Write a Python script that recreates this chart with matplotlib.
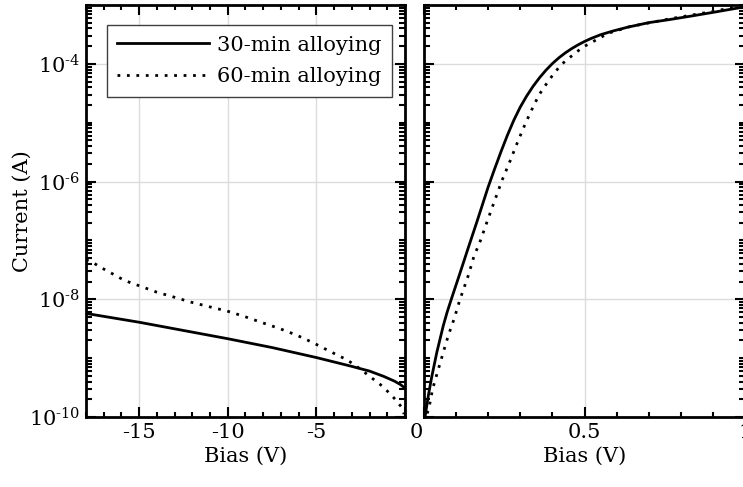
import numpy as np
import matplotlib
matplotlib.use("Agg")
import matplotlib.pyplot as plt
from matplotlib.ticker import FixedLocator, LogLocator, FuncFormatter, MultipleLocator, NullFormatter

# reverse-bias branch (left panel), current as log10(A)
rev_bias_30 = [-18, -15, -12.5, -10, -7.5, -5, -4, -3, -2, -1.2, -0.6, -0.25, 0]
rev_log_i_30 = [-8.24, -8.39, -8.53, -8.67, -8.82, -8.99, -9.065, -9.14, -9.22, -9.31,
                -9.39, -9.45, -9.51]
rev_bias_60 = [-18, -17.64, -17.27, -16.8, -16.36, -15.95, -15.48, -15.0, -14.0, -13.07,
               -12.06, -11.0, -10.04, -9.08, -8.03, -7.05, -6.11, -5.17, -4.27, -3.33,
               -2.86, -2.07, -1.69, -1.22, -0.55, -0.2, -0.05]
rev_log_i_60 = [-7.33, -7.37, -7.44, -7.52, -7.59, -7.66, -7.72, -7.77, -7.88, -7.96,
                -8.05, -8.13, -8.20, -8.29, -8.40, -8.50, -8.61, -8.74, -8.88, -9.02,
                -9.11, -9.29, -9.38, -9.49, -9.70, -9.83, -9.95]

# forward-bias branch (right panel)
fwd_bias_30 = [0.0, 0.002, 0.006, 0.014, 0.024, 0.040, 0.060, 0.072, 0.085, 0.11, 0.137,
               0.165, 0.20, 0.22, 0.24, 0.26, 0.28, 0.30, 0.32, 0.34, 0.36, 0.38, 0.40,
               0.42, 0.44, 0.46, 0.48, 0.50, 0.52, 0.55, 0.59, 0.636, 0.70, 0.762, 0.83,
               0.906, 1.0]
fwd_log_i_30 = [-10.4, -10.05, -9.90, -9.62, -9.32, -8.90, -8.45, -8.22, -8.0, -7.59, -7.14,
                -6.68, -6.09, -5.785, -5.49, -5.21, -4.955, -4.733, -4.545, -4.38, -4.235,
                -4.107, -3.995, -3.898, -3.814, -3.741, -3.677, -3.62, -3.57, -3.505, -3.44,
                -3.375, -3.30, -3.25, -3.19, -3.12, -3.03]
fwd_bias_60 = [0.006, 0.010, 0.016, 0.027, 0.043, 0.059, 0.076, 0.094, 0.111, 0.139, 0.155,
               0.176, 0.196, 0.215, 0.243, 0.266, 0.287, 0.309, 0.332, 0.358, 0.390, 0.426,
               0.470, 0.497, 0.541, 0.574, 0.64, 0.76, 0.91, 1.0]
fwd_log_i_60 = [-10.1, -9.94, -9.83, -9.52, -9.22, -8.92, -8.61, -8.33, -8.02, -7.58, -7.28,
                -7.0, -6.69, -6.40, -5.98, -5.68, -5.39, -5.10, -4.82, -4.53, -4.27, -4.02,
                -3.82, -3.71, -3.58, -3.48, -3.37, -3.24, -3.10, -3.0]

labels = ["30-min alloying", "60-min alloying"]

plt.rcParams['font.family'] = ['DejaVu Serif']
plt.rcParams['mathtext.fontset'] = 'dejavuserif'
plt.rcParams['axes.unicode_minus'] = False
plt.rcParams['font.size'] = 15

fig = plt.figure(figsize=(7.43, 4.87), dpi=100)
W, H = 743, 487
ax1 = fig.add_axes([86 / W, (H - 417) / H, (405 - 86) / W, 412 / H])
ax2 = fig.add_axes([424 / W, (H - 417) / H, (745 - 424) / W, 412 / H])

solid_kw = dict(color='black', linewidth=2.0, linestyle='-')
dot_kw = dict(color='black', linewidth=2.0, linestyle=(0, (1, 2.4)))

ax1.plot(rev_bias_30, 10 ** np.array(rev_log_i_30), label=labels[0], **solid_kw)
ax1.plot(rev_bias_60, 10 ** np.array(rev_log_i_60), label=labels[1], **dot_kw)
ax2.plot(fwd_bias_30, 10 ** np.array(fwd_log_i_30), **solid_kw)
ax2.plot(fwd_bias_60, 10 ** np.array(fwd_log_i_60), **dot_kw)


def exp_label(v, pos):
    e = int(round(np.log10(v)))
    return r'$10^{\text{-}%d}$' % (-e) if e < 0 else r'$10^{%d}$' % e


for ax in (ax1, ax2):
    ax.set_yscale('log')
    ax.set_ylim(1e-10, 1e-3)
    ax.yaxis.set_major_locator(FixedLocator([1e-10, 1e-8, 1e-6, 1e-4]))
    ax.yaxis.set_minor_locator(LogLocator(base=10, subs=np.arange(1, 10), numticks=30))
    ax.yaxis.set_minor_formatter(NullFormatter())
    ax.grid(True, which='major', color='#dcdcdc', linewidth=1.0)
    ax.set_axisbelow(True)
    ax.tick_params(which='both', direction='in', top=True, right=True, width=1.5)
    ax.tick_params(which='major', length=7, pad=4)
    ax.tick_params(which='minor', length=3.3)
    ax.tick_params(axis='y', which='minor', length=4.5)
    for sp in ax.spines.values():
        sp.set_linewidth(2.0)
    ax.set_xlabel("Bias (V)")

ax1.yaxis.set_major_formatter(FuncFormatter(exp_label))
ax2.yaxis.set_major_formatter(NullFormatter())

ax1.set_xlim(-18, 0)
ax1.xaxis.set_major_locator(FixedLocator([-15, -10, -5, 0]))
ax1.xaxis.set_minor_locator(MultipleLocator(1))
ax1.set_xticklabels(['-15', '-10', '-5', ''])
ax1.set_ylabel("Current (A)", labelpad=-2)

ax2.set_xlim(0, 1)
ax2.xaxis.set_major_locator(FixedLocator([0, 0.5, 1]))
ax2.xaxis.set_minor_locator(MultipleLocator(0.1))
ax2.set_xticklabels(['', '0.5', '1'])
# shared zero label sits in the gap between the two panels
ax2.annotate('0', xy=(0, 0), xycoords=ax2.get_xaxis_transform(),
             xytext=(-8, -5.5), textcoords='offset pixels', ha='center', va='top')

leg = ax1.legend(loc='upper right', bbox_to_anchor=(0.959, 0.951), fancybox=False,
                 framealpha=1, edgecolor='#404040', handlelength=4.4,
                 borderpad=0.5, labelspacing=0.6, handletextpad=0.4, borderaxespad=0)
leg.get_frame().set_linewidth(1.0)

fig.savefig('out.png', dpi=100)
